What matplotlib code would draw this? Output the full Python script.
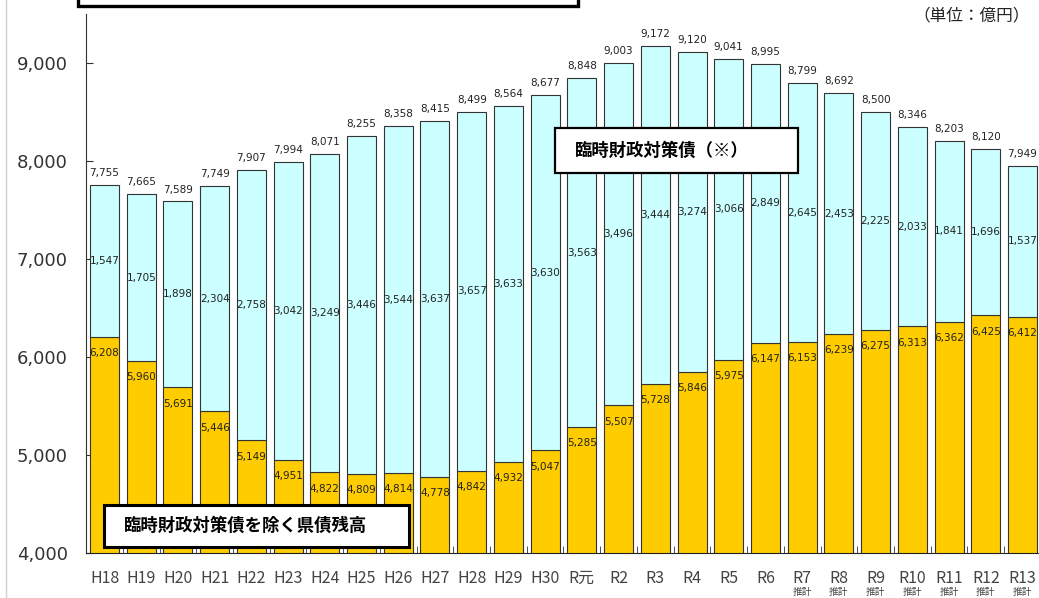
import matplotlib.pyplot as plt
from matplotlib.patches import Rectangle
from matplotlib.lines import Line2D
import numpy as np

# data (億円)
years = ['H18', 'H19', 'H20', 'H21', 'H22', 'H23', 'H24', 'H25', 'H26', 'H27',
         'H28', 'H29', 'H30', 'R元', 'R2', 'R3', 'R4', 'R5', 'R6', 'R7',
         'R8', 'R9', 'R10', 'R11', 'R12', 'R13']
base_debt = [6208, 5960, 5691, 5446, 5149, 4951, 4822, 4809, 4814, 4778,
             4842, 4932, 5047, 5285, 5507, 5728, 5846, 5975, 6147, 6153,
             6239, 6275, 6313, 6362, 6425, 6412]
rinji_debt = [1547, 1705, 1898, 2304, 2758, 3042, 3249, 3446, 3544, 3637,
              3657, 3633, 3630, 3563, 3496, 3444, 3274, 3066, 2849, 2645,
              2453, 2225, 2033, 1841, 1696, 1537]
totals = [7755, 7665, 7589, 7749, 7907, 7994, 8071, 8255, 8358, 8415,
          8499, 8564, 8677, 8848, 9003, 9172, 9120, 9041, 8995, 8799,
          8692, 8500, 8346, 8203, 8120, 7949]
estimate_from = 'R7'

W, H = 1039, 598
jp = ['Noto Sans CJK JP', 'DejaVu Sans']
plt.rcParams['font.family'] = ['DejaVu Sans', 'Noto Sans CJK JP']

fig = plt.figure(figsize=(W / 100, H / 100), dpi=100)
ax = fig.add_axes([86 / W, 1 - 553 / H, 1 - 86 / W, (553 - 14) / H])

x = np.arange(len(years))
bw = 0.79
ax.bar(x, base_debt, bw, bottom=0, color='#FFCC00', edgecolor='#333333', linewidth=0.8, zorder=2)
ax.bar(x, rinji_debt, bw, bottom=base_debt, color='#CCFFFF', edgecolor='#333333', linewidth=0.8, zorder=2)

ax.set_ylim(4000, 9503)
ax.set_xlim(-0.504, len(years) - 1 + 0.45)

num_kw = dict(ha='center', fontsize=7.5, color='#222222', zorder=3)
for i in range(len(years)):
    b, r, t = base_debt[i], rinji_debt[i], totals[i]
    ax.text(x[i], b - 165, f'{b:,}', va='center', **num_kw)
    ax.text(x[i], b + r / 2, f'{r:,}', va='center', **num_kw)
    ax.annotate(f'{t:,}', (x[i], b + r), xytext=(0, 5), textcoords='offset points',
                va='bottom', **num_kw)

ax.set_yticks(range(4000, 9001, 1000))
ax.set_yticklabels([f'{v:,}' for v in range(4000, 9001, 1000)], fontsize=13, color='#333333')
ax.tick_params(axis='y', direction='in', length=5, pad=13, color='#333333')
ax.set_xticks(x)
ax.set_xticklabels(years, fontsize=11.5, color='#444444', family=jp)
ax.set_xticks(x[:-1] + 0.5, minor=True)
ax.tick_params(axis='x', which='major', length=0, pad=12)
ax.tick_params(axis='x', which='minor', direction='in', length=5, color='#333333')
for s in ['top', 'right']:
    ax.spines[s].set_visible(False)
ax.spines['left'].set_color('#333333')
ax.spines['bottom'].set_color('#222222')

# 推計 labels under estimates (squeezed in at the figure bottom)
for i in range(years.index(estimate_from), len(years)):
    ax.annotate('推計', (x[i], 4000), xytext=(0, -31.5), textcoords='offset points',
                ha='center', va='bottom', fontsize=7, color='#444444', family=jp,
                annotation_clip=False)


def fig_box(x0, y0, x1, y1, lw):
    fig.add_artist(Rectangle((x0 / W, 1 - y1 / H), (x1 - x0) / W, (y1 - y0) / H,
                             transform=fig.transFigure, facecolor='white',
                             edgecolor='black', linewidth=lw, zorder=5))


fig_box(555, 128, 798, 173, 1.6)
fig.text(575 / W, 1 - 151 / H, '臨時財政対策債（※）', fontsize=12.5, fontweight='bold',
         family=jp, va='center', ha='left', zorder=6)

fig_box(104, 505, 409, 547, 2.2)
fig.text(124 / W, 1 - 526 / H, '臨時財政対策債を除く県債残高', fontsize=12.5, fontweight='bold',
         family=jp, va='center', ha='left', zorder=6)

# title box cut off at top
fig_box(78, -30, 578, 6, 2.4)

fig.text(1030 / W, 1 - 16 / H, '（単位：億円）', fontsize=12, family=jp,
         ha='right', va='center', color='#222222')

fig.add_artist(Line2D([6 / W, 6 / W], [0, 1], transform=fig.transFigure,
                      color='#d0d0d0', linewidth=1))

fig.savefig('out.png', dpi=100)
